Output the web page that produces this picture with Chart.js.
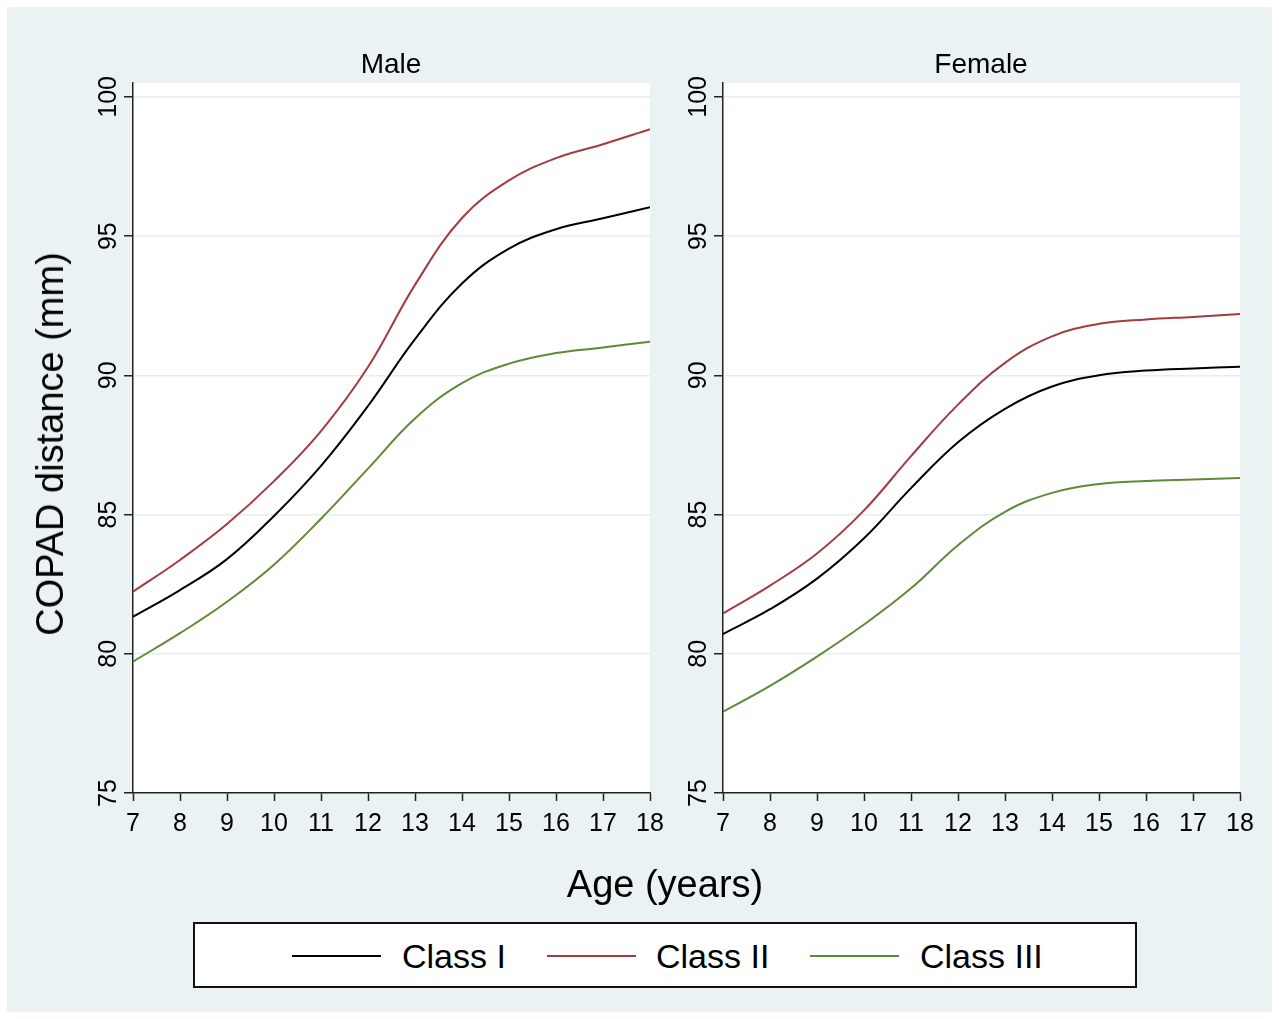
<!DOCTYPE html>
<html>
<head>
<meta charset="utf-8">
<script src="https://cdn.jsdelivr.net/npm/chart.js@4.4.0/dist/chart.umd.min.js"></script>
<style>
  body { margin: 0; background: #ffffff; font-family: Arial, "Liberation Sans", sans-serif; }
  #page { position: relative; width: 1279px; height: 1019px; overflow: hidden; }
  #bg { position: absolute; left: 7px; top: 7px; width: 1265px; height: 1005px; background: #eaf2f3; }
  canvas { position: absolute; left: 0; top: 0; }
  .txt { position: absolute; color: #000; white-space: nowrap; transform: translate(-50%, -50%); line-height: 1; }
  #legend { position: absolute; left: 193px; top: 922px; width: 940px; height: 62px; background: #fff; border: 2px solid #111; }
  .swatch { position: absolute; top: 31px; width: 89px; height: 0; border-top: 2px solid; }
  .ltxt { position: absolute; top: 32px; font-size: 34px; line-height: 1; transform: translateY(-50%); }
</style>
</head>
<body>
<div id="page">
  <div id="bg"></div>
  <canvas id="chartMale" width="1279" height="1019"></canvas>
  <canvas id="chartFemale" width="1279" height="1019"></canvas>

  <div class="txt" style="left:391px; top:64px; font-size:28px;">Male</div>
  <div class="txt" style="left:981px; top:64px; font-size:28px;">Female</div>
  <div class="txt" style="left:50px; top:444px; font-size:38px; transform: translate(-50%, -50%) rotate(-90deg);">COPAD distance (mm)</div>
  <div class="txt" style="left:665px; top:884px; font-size:38px;">Age (years)</div>

  <div id="legend">
    <div class="swatch" style="left:97px; border-color:#000000;"></div>
    <div class="ltxt" style="left:207px;">Class I</div>
    <div class="swatch" style="left:352px; border-color:#a33b40;"></div>
    <div class="ltxt" style="left:461px;">Class II</div>
    <div class="swatch" style="left:615px; border-color:#5f8a36;"></div>
    <div class="ltxt" style="left:725px;">Class III</div>
  </div>
</div>

<script>
// Edades (eje x) y marcas del eje y
const EDADES = [7, 8, 9, 10, 11, 12, 13, 14, 15, 16, 17, 18];
const Y_TICKS = [75, 80, 85, 90, 95, 100];

const SERIES = ['Class I', 'Class II', 'Class III'];
const COLORES = ['#000000', '#a33b40', '#5f8a36'];

// Distancia COPAD (mm) por edad — hombres
const MALE_CLASE_I   = [81.33, 82.29, 83.4, 84.95, 86.75, 88.9, 91.3, 93.3, 94.55, 95.25, 95.64, 96.04];
const MALE_CLASE_II  = [82.23, 83.37, 84.66, 86.2, 88.0, 90.3, 93.25, 95.65, 97.0, 97.8, 98.3, 98.84];
const MALE_CLASE_III = [79.72, 80.74, 81.87, 83.2, 84.85, 86.65, 88.45, 89.72, 90.42, 90.8, 91.0, 91.21];

// Distancia COPAD (mm) por edad — mujeres
const FEMALE_CLASE_I   = [80.71, 81.6, 82.7, 84.15, 85.95, 87.6, 88.8, 89.6, 90.0, 90.17, 90.25, 90.31];
const FEMALE_CLASE_II  = [81.45, 82.45, 83.6, 85.15, 87.1, 88.95, 90.45, 91.4, 91.85, 92.01, 92.1, 92.2];
const FEMALE_CLASE_III = [77.92, 78.85, 79.9, 81.05, 82.35, 83.9, 85.1, 85.78, 86.1, 86.21, 86.26, 86.31];

const FONT = 'Arial, "Liberation Sans", sans-serif';
const GRID = '#e6eef1';
const EJE = '#222222';

// Fondo blanco solo dentro del área de la gráfica
const fondoBlanco = {
  id: 'fondoBlanco',
  beforeDraw(chart) {
    const { ctx, chartArea: a } = chart;
    ctx.save();
    ctx.fillStyle = '#ffffff';
    ctx.fillRect(a.left, a.top, a.right - a.left, a.bottom - a.top);
    ctx.restore();
  }
};

// Etiquetas del eje y giradas 90°, como en Stata
const etiquetasY = {
  id: 'etiquetasY',
  afterDraw(chart) {
    const { ctx, scales } = chart;
    const y = scales.y;
    ctx.save();
    ctx.fillStyle = '#000';
    ctx.font = '25px ' + FONT;
    ctx.textAlign = 'center';
    ctx.textBaseline = 'alphabetic';
    y.ticks.forEach(t => {
      const py = y.getPixelForValue(t.value);
      ctx.save();
      ctx.translate(y.right - 17, py);
      ctx.rotate(-Math.PI / 2);
      ctx.fillText(String(t.value), 0, 0);
      ctx.restore();
    });
    ctx.restore();
  }
};

function crearPanel(canvasId, valores, padLeft, anchoY, padRight) {
  return new Chart(document.getElementById(canvasId), {
    type: 'line',
    data: {
      datasets: valores.map((serie, i) => ({
        label: SERIES[i],
        data: EDADES.map((edad, k) => ({ x: edad, y: serie[k] })),
        borderColor: COLORES[i],
        borderWidth: 2,
        pointRadius: 0,
        tension: 0.4,
        fill: false
      }))
    },
    options: {
      responsive: false,
      animation: false,
      events: [],
      layout: { padding: { left: padLeft, right: padRight, top: 83, bottom: 176 } },
      plugins: { legend: { display: false }, tooltip: { enabled: false } },
      scales: {
        x: {
          type: 'linear',
          min: 7,
          max: 18,
          afterBuildTicks: s => { s.ticks = EDADES.map(v => ({ value: v })); },
          afterFit: s => { s.height = 50; },
          border: { color: EJE, width: 1.5 },
          grid: { drawOnChartArea: false, tickColor: EJE, tickLength: 8, tickWidth: 1.5 },
          ticks: { color: '#000', font: { family: FONT, size: 25 }, padding: 8, maxRotation: 0, autoSkip: false }
        },
        y: {
          min: 75,
          max: 100.5,
          afterBuildTicks: s => { s.ticks = Y_TICKS.map(v => ({ value: v })); },
          afterFit: s => { s.width = anchoY; },
          border: { color: EJE, width: 1.5 },
          grid: {
            color: ctx => (ctx.tick && ctx.tick.value === 75 ? 'rgba(0,0,0,0)' : GRID),
            lineWidth: 1.5,
            tickColor: EJE,
            tickLength: 9,
            tickWidth: 1.5
          },
          ticks: { display: false }
        }
      }
    },
    plugins: [fondoBlanco, etiquetasY]
  });
}

crearPanel('chartMale', [MALE_CLASE_I, MALE_CLASE_II, MALE_CLASE_III], 0, 133, 629);
crearPanel('chartFemale', [FEMALE_CLASE_I, FEMALE_CLASE_II, FEMALE_CLASE_III], 660, 63, 39);
</script>
</body>
</html>
